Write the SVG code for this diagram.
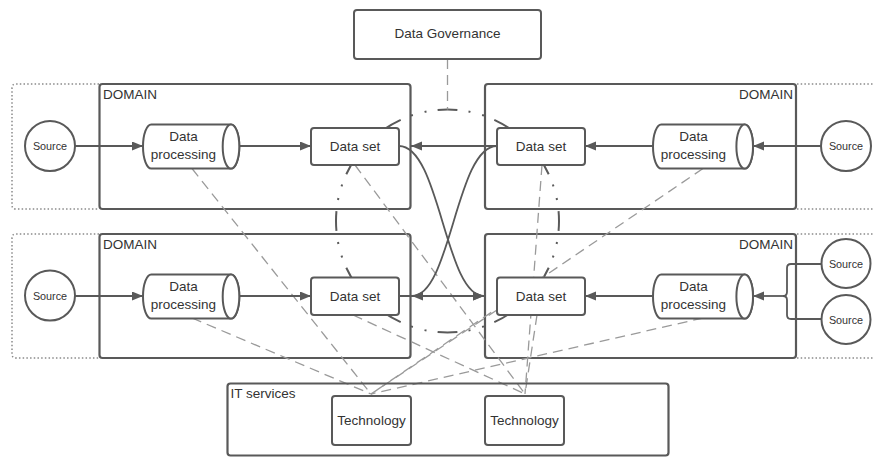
<svg xmlns="http://www.w3.org/2000/svg" width="874" height="457" viewBox="0 0 874 457">
<defs>
<style>
.box{fill:none;stroke:#595959;stroke-width:2.2}
.wbox{fill:#fff;stroke:#595959;stroke-width:2}
.dot{fill:none;stroke:#8a8a8a;stroke-width:1.5;stroke-dasharray:1.5 2.2}
.conn{fill:none;stroke:#595959;stroke-width:1.8}
.gray{fill:none;stroke:#9a9a9a;stroke-width:1.3;stroke-dasharray:10 6}
.gov{fill:none;stroke:#5a5a5a;stroke-width:2;stroke-dasharray:20 11 2 12 2 11;stroke-dashoffset:10}
text{font-family:"Liberation Sans",Arial,sans-serif;fill:#333;font-size:13.5px}
.c{text-anchor:middle}
.r{text-anchor:end}
.s{font-size:10.8px}
</style>
<marker id="ah" markerUnits="userSpaceOnUse" markerWidth="12" markerHeight="10" refX="11" refY="4.5" orient="auto">
<path d="M0,0 L11,4.5 L0,9 Z" fill="#595959"/>
</marker>
</defs>

<g id="outer-dotted">
<path class="dot" d="M99,84 H16 Q12,84 12,88 V205 Q12,209 16,209 H99"/>
<path class="dot" d="M99,234 H16 Q12,234 12,238 V354 Q12,358 16,358 H99"/>
<path class="dot" d="M797,84 H874 M797,209 H874 M797,234 H874 M797,358 H874"/>
</g>

<g id="domain-tl"><rect class="box" x="99.5" y="84" width="311" height="125" rx="3"/><text x="103" y="99">DOMAIN</text></g>
<g id="domain-tr"><rect class="box" x="485" y="84" width="311" height="125" rx="3"/><text class="r" x="793" y="99">DOMAIN</text></g>
<g id="domain-bl"><rect class="box" x="99.5" y="234" width="311" height="124" rx="3"/><text x="103" y="248.5">DOMAIN</text></g>
<g id="domain-br"><rect class="box" x="485" y="234" width="311" height="124" rx="3"/><text class="r" x="793" y="248.5">DOMAIN</text></g>

<g id="governance-circle">
<circle class="gov" cx="447.5" cy="221" r="111.5" pathLength="696"/>
</g>

<g id="connectors">
<path class="gray" d="M447.5,59 V109.5"/>
<path class="gray" d="M192,168.5 L371,394"/>
<path class="gray" d="M192,318 L371,394"/>
<path class="gray" d="M703,168.5 L371,394"/>
<path class="gray" d="M703,318 L371,394"/>
<path class="gray" d="M497,310 L371,394"/>
<path class="gray" d="M355,165 L525,394"/>
<path class="gray" d="M353,315 L525,394"/>
<path class="gray" d="M542,165 L525,394"/>
<path class="gray" d="M537,315 L525,394"/>

<path class="conn" marker-end="url(#ah)" d="M75,146 H143"/>
<path class="conn" marker-end="url(#ah)" d="M240,146 H311"/>
<path class="conn" marker-end="url(#ah)" d="M821,146 H753"/>
<path class="conn" marker-end="url(#ah)" d="M653,146 H585"/>
<path class="conn" marker-end="url(#ah)" d="M497,146 H411"/>
<path class="conn" marker-end="url(#ah)" d="M75,296 H143"/>
<path class="conn" marker-end="url(#ah)" d="M240,296 H311"/>
<path class="conn" marker-end="url(#ah)" d="M399,296 H484"/>
<path class="conn" marker-end="url(#ah)" d="M653,296 H585"/>
<path class="conn" marker-end="url(#ah)" d="M399,146 C440,146 445,296 484,296"/>
<path class="conn" marker-end="url(#ah)" d="M497,146 C456,146 451,296 412,296"/>
<path class="conn" d="M822,264 H791 Q787,264 787,268 V292 Q787,296 783,296 Q787,296 787,300 V315 Q787,319 791,319 H822"/>
<path class="conn" marker-end="url(#ah)" d="M783,296 H753"/>
</g>

<g id="governance"><rect class="wbox" x="354" y="10" width="187" height="49" rx="3"/><text class="c" x="447.5" y="38">Data Governance</text></g>

<g id="source-tl"><circle class="wbox" cx="50" cy="146" r="25"/><text class="c s" x="50" y="150">Source</text></g>
<g id="source-tr"><circle class="wbox" cx="846" cy="146" r="25"/><text class="c s" x="846" y="150">Source</text></g>
<g id="source-bl"><circle class="wbox" cx="50" cy="295.5" r="25"/><text class="c s" x="50" y="299.5">Source</text></g>
<g id="source-br1"><circle class="wbox" cx="846" cy="263.5" r="24.5"/><text class="c s" x="846" y="267.5">Source</text></g>
<g id="source-br2"><circle class="wbox" cx="846" cy="319.5" r="24.5"/><text class="c s" x="846" y="323.5">Source</text></g>

<g id="processing-tl">
<path class="wbox" d="M151.3,124.5 H231 A8.3,22 0 0 1 231,168.5 H151.3 A8.3,22 0 0 1 151.3,124.5 Z"/>
<ellipse class="wbox" cx="231" cy="146.5" rx="8.3" ry="22"/>
<text class="c" x="183.5" y="141">Data</text><text class="c" x="183.5" y="158.5">processing</text>
</g>
<g id="processing-tr">
<path class="wbox" d="M661.3,124.5 H744.7 A8.3,22 0 0 1 744.7,168.5 H661.3 A8.3,22 0 0 1 661.3,124.5 Z"/>
<ellipse class="wbox" cx="744.7" cy="146.5" rx="8.3" ry="22"/>
<text class="c" x="693.5" y="141">Data</text><text class="c" x="693.5" y="158.5">processing</text>
</g>
<g id="processing-bl">
<path class="wbox" d="M151.3,274.5 H231 A8.3,22 0 0 1 231,318.5 H151.3 A8.3,22 0 0 1 151.3,274.5 Z"/>
<ellipse class="wbox" cx="231" cy="296.5" rx="8.3" ry="22"/>
<text class="c" x="183.5" y="291">Data</text><text class="c" x="183.5" y="308.5">processing</text>
</g>
<g id="processing-br">
<path class="wbox" d="M661.3,274.5 H744.7 A8.3,22 0 0 1 744.7,318.5 H661.3 A8.3,22 0 0 1 661.3,274.5 Z"/>
<ellipse class="wbox" cx="744.7" cy="296.5" rx="8.3" ry="22"/>
<text class="c" x="693.5" y="291">Data</text><text class="c" x="693.5" y="308.5">processing</text>
</g>

<g id="dataset-tl"><rect class="wbox" x="311" y="128" width="88" height="37" rx="3"/><text class="c" x="355" y="151">Data set</text></g>
<g id="dataset-tr"><rect class="wbox" x="497" y="128" width="88" height="37" rx="3"/><text class="c" x="541" y="151">Data set</text></g>
<g id="dataset-bl"><rect class="wbox" x="311" y="277.5" width="88" height="37.5" rx="3"/><text class="c" x="355" y="301">Data set</text></g>
<g id="dataset-br"><rect class="wbox" x="497" y="277.5" width="88" height="37.5" rx="3"/><text class="c" x="541" y="301">Data set</text></g>

<g id="it-services"><rect class="box" x="227.5" y="383.5" width="441" height="72" rx="3"/><text x="230.5" y="397.5">IT services</text></g>
<g id="technology-1"><rect class="wbox" x="332" y="396" width="79" height="49" rx="3"/><text class="c" x="371.5" y="424.5">Technology</text></g>
<g id="technology-2"><rect class="wbox" x="485" y="396" width="79" height="49" rx="3"/><text class="c" x="524.5" y="424.5">Technology</text></g>
</svg>
